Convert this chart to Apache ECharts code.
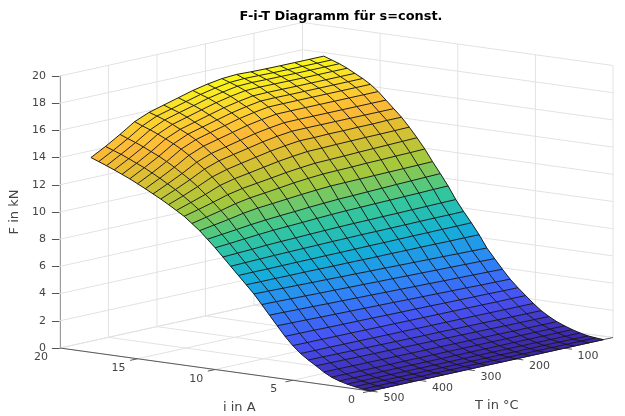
<!DOCTYPE html>
<html><head><meta charset="utf-8">
<style>html,body{margin:0;padding:0;background:#fff}#c{width:625px;height:416px}</style>
<script src="https://cdn.jsdelivr.net/npm/echarts@6/dist/echarts.min.js"></script>
</head><body><div id="c"></div>
<script>
const currents = [0,.5,1,1.5,2,2.5,3,3.5,4,4.5,5,5.5,6,6.5,7,7.5,8,8.5,9,9.5,10,10.5,11,11.5,12,12.5,13,13.5,14,14.5,15,15.5,16,16.5,17,17.5,18];
const temperatures = [20,50,80,110,140,170,200,230,260,290,320,350,380,410,440,470,500];
const force = [
[0,0,0,0,0,0,0,0,0,0,0,0,0,0,0,0,0],
[.05,.05,.05,.05,.05,.05,.05,.05,.05,.06,.06,.06,.06,.06,.06,.06,.06],
[.12,.12,.13,.13,.13,.13,.14,.14,.14,.14,.15,.15,.15,.15,.16,.16,.16],
[.25,.25,.25,.25,.26,.26,.26,.26,.26,.26,.26,.26,.26,.27,.27,.27,.27],
[.42,.42,.42,.42,.42,.42,.42,.42,.42,.42,.42,.42,.42,.42,.42,.42,.42],
[.62,.62,.62,.62,.62,.62,.62,.62,.62,.62,.62,.62,.62,.62,.62,.62,.62],
[.85,.85,.86,.86,.87,.87,.88,.88,.89,.89,.89,.90,.90,.91,.91,.92,.92],
[1.15,1.16,1.17,1.18,1.19,1.20,1.21,1.22,1.22,1.23,1.24,1.25,1.26,1.27,1.28,1.29,1.30],
[1.50,1.51,1.52,1.53,1.54,1.55,1.56,1.57,1.57,1.58,1.59,1.60,1.61,1.62,1.63,1.64,1.65],
[1.95,1.96,1.96,1.97,1.98,1.98,1.99,1.99,2.00,2.01,2.01,2.02,2.03,2.03,2.04,2.04,2.05],
[2.45,2.46,2.46,2.47,2.48,2.48,2.49,2.49,2.50,2.51,2.51,2.52,2.53,2.53,2.54,2.54,2.55],
[2.95,2.96,2.98,2.99,3.00,3.01,3.03,3.04,3.05,3.06,3.08,3.09,3.10,3.11,3.13,3.14,3.15],
[3.50,3.52,3.54,3.57,3.59,3.61,3.63,3.65,3.68,3.70,3.72,3.74,3.76,3.78,3.81,3.83,3.85],
[4.15,4.18,4.20,4.23,4.25,4.28,4.30,4.33,4.35,4.38,4.40,4.43,4.45,4.48,4.50,4.53,4.55],
[4.85,4.88,4.90,4.93,4.95,4.98,5.00,5.03,5.05,5.08,5.10,5.13,5.15,5.18,5.20,5.23,5.25],
[5.55,5.58,5.60,5.63,5.65,5.68,5.70,5.73,5.75,5.78,5.80,5.83,5.85,5.88,5.90,5.93,5.95],
[6.45,6.46,6.46,6.47,6.48,6.48,6.49,6.49,6.50,6.51,6.51,6.52,6.53,6.53,6.54,6.54,6.55],
[7.25,7.24,7.24,7.23,7.23,7.22,7.21,7.21,7.20,7.19,7.19,7.18,7.18,7.17,7.16,7.16,7.15],
[8.00,7.99,7.99,7.98,7.97,7.96,7.95,7.95,7.93,7.92,7.90,7.88,7.86,7.84,7.81,7.78,7.75],
[8.80,8.79,8.77,8.76,8.74,8.73,8.71,8.70,8.68,8.65,8.62,8.58,8.55,8.51,8.45,8.40,8.35],
[9.72,9.70,9.67,9.65,9.62,9.60,9.57,9.55,9.51,9.46,9.40,9.35,9.30,9.22,9.13,9.03,8.95],
[10.55,10.52,10.49,10.46,10.42,10.39,10.35,10.32,10.26,10.20,10.12,10.05,9.97,9.87,9.74,9.62,9.50],
[11.35,11.33,11.31,11.29,11.27,11.25,11.23,11.21,11.14,11.06,10.96,10.86,10.77,10.62,10.41,10.23,10.05],
[12.20,12.17,12.15,12.12,12.10,12.06,12.04,12.01,11.93,11.83,11.69,11.56,11.44,11.25,10.98,10.73,10.50],
[12.95,12.92,12.89,12.86,12.83,12.79,12.76,12.73,12.63,12.51,12.35,12.20,12.05,11.83,11.51,11.22,10.95],
[13.65,13.63,13.61,13.60,13.58,13.56,13.53,13.51,13.39,13.25,13.06,12.87,12.69,12.43,12.01,11.65,11.30],
[14.30,14.30,14.27,14.27,14.25,14.25,14.22,14.22,14.09,13.93,13.72,13.51,13.29,12.98,12.50,12.06,11.65],
[14.85,14.85,14.85,14.85,14.85,14.85,14.85,14.84,14.71,14.53,14.30,14.08,13.85,13.47,12.93,12.44,11.98],
[15.40,15.40,15.40,15.40,15.40,15.40,15.40,15.39,15.24,15.06,14.81,14.56,14.31,13.90,13.31,12.78,12.28],
[15.95,15.95,15.95,15.95,15.95,15.95,15.95,15.94,15.78,15.58,15.31,15.04,14.77,14.33,13.69,13.12,12.58],
[16.40,16.40,16.40,16.40,16.40,16.40,16.40,16.39,16.22,16.01,15.73,15.45,15.16,14.71,14.03,13.43,12.87],
[16.75,16.75,16.75,16.75,16.75,16.75,16.76,16.75,16.57,16.35,16.07,15.78,15.49,15.02,14.34,13.73,13.15],
[17.05,17.05,17.05,17.05,17.05,17.06,17.07,17.05,16.87,16.65,16.36,16.06,15.77,15.30,14.60,13.98,13.40],
[17.35,17.35,17.35,17.35,17.36,17.37,17.38,17.35,17.17,16.94,16.65,16.35,16.05,15.57,14.87,14.24,13.65],
[17.60,17.60,17.60,17.60,17.61,17.62,17.64,17.60,17.41,17.19,16.89,16.60,16.30,15.81,15.11,14.48,13.88],
[17.80,17.80,17.80,17.80,17.81,17.83,17.85,17.80,17.62,17.39,17.10,16.80,16.51,16.02,15.32,14.69,14.10],
[18.00,18.00,18.00,18.00,18.01,18.03,18.07,18.00,17.83,17.60,17.30,17.00,16.70,16.25,15.55,14.90,14.32]
];
const forceTicks = [0,2,4,6,8,10,12,14,16,18,20];
const currentTicks = [0,5,10,15,20];
const tempTicks = [0,100,200,300,400,500];
const tempLabelTicks = [100,200,300,400,500];
const parulaStops = [
 [0,[62,38,168]],[.125,[72,82,244]],[.25,[46,135,247]],[.375,[18,177,214]],
 [.5,[55,200,151]],[.625,[165,200,60]],[.75,[225,190,50]],[.83,[254,185,55]],[.92,[250,215,45]],[1,[249,251,20]]
];

// oblique projection of the MATLAB view, in data units of the hidden x axis and the F axis
function project(i, T, F) {
  const px = 311 - 15.55 * i + 0.486 * (500 - T);
  const py = 43 - 2.15 * i - 0.107 * (500 - T) - 13.6 * F;
  return [px, -py / 13.6];
}
function shade(F) {
  const t = Math.min(1, Math.max(0, F / 18.07));
  for (let n = 1; n < parulaStops.length; n++) {
    if (t <= parulaStops[n][0]) {
      const a = parulaStops[n-1], b = parulaStops[n], f = (t - a[0]) / (b[0] - a[0]);
      return 'rgb(' + a[1].map((c, m) => Math.round(c + (b[1][m] - c) * f)).join(',') + ')';
    }
  }
  return 'rgb(249,251,20)';
}

const gridSegs = [];
forceTicks.forEach(F => {
  gridSegs.push([20,500,F,20,0,F]);
  gridSegs.push([20,0,F,0,0,F]);
});
tempTicks.forEach(T => {
  gridSegs.push([20,T,0,20,T,20]);
  gridSegs.push([0,T,0,20,T,0]);
});
currentTicks.forEach(i => {
  gridSegs.push([i,0,0,i,0,20]);
  gridSegs.push([i,0,0,i,500,0]);
});

const axisSegs = [[20,500,0,0,500,0],[0,500,0,0,0,0]];
const tickLen = 7.5;
currentTicks.slice(0,4).forEach(i => axisSegs.push([i,500,0,i,500 + tickLen / 0.497,0]));
tempLabelTicks.forEach(T => axisSegs.push([0,T,0,-tickLen / 15.7,T,0]));

const labels = [];
currentTicks.forEach(i => labels.push([i,500,0,-19,9.3,String(i)]));
tempLabelTicks.forEach(T => labels.push([0,T,0,23.5,7.5,String(T)]));

// fills: one item per strip between two current values, far strip first
const strips = [];
for (let r = force.length - 2; r >= 0; r--) strips.push([currents[r], force[r][0], r]);
// mesh lines: kind 0 = line of constant current, kind 1 = line of constant temperature
const meshLines = [];
force.forEach((row, r) => meshLines.push([currents[r], row[0], 0, r]));
temperatures.forEach((T, k) => meshLines.push([currents[0], force[0][k], 1, k]));

const chart = echarts.init(document.getElementById('c'), null, {renderer:'canvas'});
const segRender = (stroke, lw) => (p, api) => {
  const a = api.coord(project(api.value(0), api.value(1), api.value(2)));
  const b = api.coord(project(api.value(3), api.value(4), api.value(5)));
  return {type:'line', shape:{x1:a[0],y1:a[1],x2:b[0],y2:b[1]}, style:{stroke, lineWidth:lw, fill:null}, silent:true};
};
chart.setOption({
  animation:false,
  title:{text:'F-i-T Diagramm für s=const.', left:336, top:5, textAlign:'center',
    textStyle:{fontFamily:'DejaVu Sans', fontSize:12.9, fontWeight:'bold', color:'#000'}},
  grid:{left:59, top:76, width:554, height:272},
  xAxis:{type:'value', min:0, max:554, show:false},
  yAxis:{type:'value', min:0, max:20, interval:2,
    axisLine:{show:true, lineStyle:{color:'#6e6e6e', width:1}},
    axisTick:{show:true, length:8, inside:false, lineStyle:{color:'#555', width:1}},
    axisLabel:{fontFamily:'DejaVu Sans', fontSize:11, color:'#444', margin:14},
    splitLine:{show:false},
    name:'F in kN', nameLocation:'middle', nameRotate:90, nameGap:32,
    nameTextStyle:{fontFamily:'DejaVu Sans', fontSize:13, color:'#444'}},
  series:[
    {type:'custom', coordinateSystem:'cartesian2d', data:gridSegs, z:1, encode:{x:0,y:2},
     renderItem:segRender('#e2e2e2',1)},
    {type:'custom', coordinateSystem:'cartesian2d', data:axisSegs, z:2, encode:{x:0,y:2},
     renderItem:segRender('#5a5a5a',1)},
    {type:'custom', coordinateSystem:'cartesian2d', data:strips, z:3, encode:{x:0,y:1},
     renderItem:(p, api) => {
       const r = api.value(2), children = [];
       for (let k = 0; k < temperatures.length - 1; k++) {
         const pts = [
           project(currents[r], temperatures[k], force[r][k]),
           project(currents[r], temperatures[k+1], force[r][k+1]),
           project(currents[r+1], temperatures[k+1], force[r+1][k+1]),
           project(currents[r+1], temperatures[k], force[r+1][k])
         ].map(q => api.coord(q));
         const c = shade(force[r][k]);
         children.push({type:'polygon', shape:{points:pts}, style:{fill:c, stroke:c, lineWidth:0.4}, silent:true});
       }
       return {type:'group', children};
     }},
    {type:'custom', coordinateSystem:'cartesian2d', data:meshLines, z:4, encode:{x:0,y:1},
     renderItem:(p, api) => {
       const kind = api.value(2), n = api.value(3);
       const pts = kind === 0
         ? temperatures.map((T, k) => project(currents[n], T, force[n][k]))
         : currents.map((c, r) => project(c, temperatures[n], force[r][n]));
       return {type:'polyline', shape:{points:pts.map(q => api.coord(q))},
         style:{fill:null, stroke:'#161616', lineWidth:0.95}, silent:true};
     }},
    {type:'custom', coordinateSystem:'cartesian2d', z:5, encode:{x:0,y:2},
     dimensions:['i','T','F','dx','dy',{name:'label',type:'ordinal'}],
     data:labels,
     renderItem:(p, api) => {
       const d = labels[p.dataIndex];
       const a = api.coord(project(d[0],d[1],d[2]));
       return {type:'text', style:{text:d[5], x:a[0]+d[3], y:a[1]+d[4], textAlign:'center', textVerticalAlign:'middle',
         font:'11px "DejaVu Sans"', fill:'#444'}, silent:true};
     }}
  ],
  graphic:[
    {type:'text', left:223, top:401, style:{text:'i in A', font:'13px "DejaVu Sans"', fill:'#444'}},
    {type:'text', left:475, top:399, style:{text:'T in °C', font:'13px "DejaVu Sans"', fill:'#444'}}
  ]
});
</script></body></html>
